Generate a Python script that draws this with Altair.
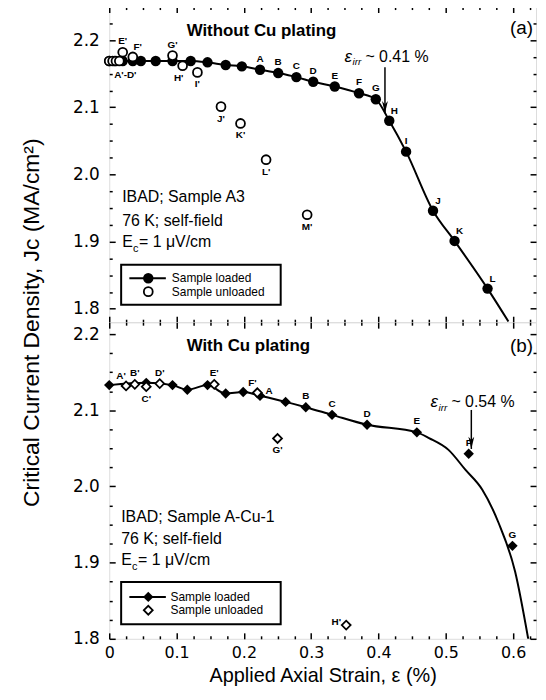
import altair as alt
import pandas as pd

FONT = "Liberation Sans"
TICK_FONT = "DejaVu Sans"

# ---------------- Panel (a): without Cu plating ----------------
a_loaded_strain = [0.0, 0.008, 0.020, 0.035, 0.047, 0.069, 0.094, 0.121, 0.146, 0.173, 0.197,
                   0.224, 0.251, 0.278, 0.303, 0.335, 0.371, 0.396, 0.416, 0.441, 0.481, 0.513, 0.562]
a_loaded_jc = [2.169, 2.169, 2.169, 2.169, 2.169, 2.169, 2.169, 2.169, 2.167, 2.163, 2.161,
               2.156, 2.151, 2.145, 2.138, 2.131, 2.121, 2.112, 2.080, 2.034, 1.946, 1.901, 1.830]
a_loaded_label = ["", "", "", "", "", "", "", "", "", "", "",
                  "A", "B", "C", "D", "E", "F", "G", "H", "I", "J", "K", "L"]
a_loaded_place = ["", "", "", "", "", "", "", "", "", "", "",
                  "above", "above", "above", "above", "above", "above", "above",
                  "above_right", "above", "above_right", "above_right", "above_right"]
a_tail_strain = [0.593]
a_tail_jc = [1.781]

a_unloaded_strain = [0.0, 0.005, 0.010, 0.015, 0.020, 0.035, 0.094, 0.109, 0.131, 0.166, 0.195, 0.233, 0.294]
a_unloaded_jc = [2.169, 2.169, 2.169, 2.169, 2.182, 2.175, 2.177, 2.162, 2.152, 2.101, 2.076, 2.022, 1.940]
a_unloaded_label = ["", "", "", "A'-D'", "E'", "F'", "G'", "H'", "I'", "J'", "K'", "L'", "M'"]
a_unloaded_place = ["", "", "", "below_right", "above", "above_right", "above", "below_left",
                    "below", "below", "below", "below", "below"]

# ---------------- Panel (b): with Cu plating ----------------
b_loaded_strain = [0.0, 0.055, 0.094, 0.116, 0.146, 0.173, 0.199, 0.224, 0.262, 0.292,
                   0.331, 0.383, 0.457, 0.534, 0.599]
b_loaded_jc = [2.133, 2.136, 2.133, 2.127, 2.133, 2.122, 2.124, 2.119, 2.111, 2.104,
               2.094, 2.081, 2.071, 2.043, 1.922]
b_loaded_label = ["", "", "", "", "", "", "", "A", "", "B", "C", "D", "E", "F", "G"]
b_loaded_place = ["", "", "", "", "", "", "", "right_up", "", "above", "above", "above",
                  "above", "above", "above"]
b_curve_strain = [0.475, 0.504, 0.529, 0.554, 0.578, 0.603, 0.623]
b_curve_jc = [2.0635, 2.048, 2.022, 1.996, 1.953, 1.888, 1.797]

b_unloaded_strain = [0.025, 0.038, 0.055, 0.075, 0.156, 0.220, 0.250, 0.352]
b_unloaded_jc = [2.132, 2.134, 2.131, 2.135, 2.134, 2.123, 2.063, 1.818]
b_unloaded_label = ["A'", "B'", "C'", "D'", "E'", "F'", "G'", "H'"]
b_unloaded_place = ["above_left", "above", "below", "above", "above", "above_left", "below", "left"]

# ---------------- axes ----------------
X_DOMAIN = [0, 0.634]
x_major = [0.0, 0.1, 0.2, 0.3, 0.4, 0.5, 0.6]
x_minor = [0.025, 0.05, 0.075, 0.125, 0.15, 0.175, 0.225, 0.25, 0.275, 0.325, 0.35, 0.375,
           0.425, 0.45, 0.475, 0.525, 0.55, 0.575, 0.625]
y_major = [1.8, 1.9, 2.0, 2.1, 2.2]
y_minor_a = [1.825, 1.85, 1.875, 1.925, 1.95, 1.975, 2.025, 2.05, 2.075, 2.125, 2.15, 2.175, 2.225]
y_minor_b = [1.825, 1.85, 1.875, 1.925, 1.95, 1.975, 2.025, 2.05, 2.075, 2.125, 2.15, 2.175]
A_DOMAIN = [1.78, 2.25]
B_DOMAIN = [1.80, 2.2156]

W = 430
H_A = 318
H_B = 319

Y_TITLE = "Critical Current Density, Jc (MA/cm²)"
X_TITLE = "Applied Axial Strain, ε (%)"

PLACE = {
    "above": (0, -11), "above_right": (5, -10), "above_left": (-5, -10),
    "below": (0, 12), "below_right": (6, 14), "below_left": (-4, 12),
    "left": (-10, -3), "right_up": (9, -5),
}


def tick_axis(orient, values, size, offset):
    return alt.Axis(orient=orient, values=values, labels=False, domain=False, grid=False,
                    ticks=True, tickSize=size, tickWidth=1.5, tickColor="black",
                    offset=offset, title=None)


def make_df(s, j, lab=None, place=None):
    d = {"s": s, "j": j}
    if lab is not None:
        d["lab"] = lab
        d["place"] = place
    return pd.DataFrame(d)


def panel(ydom, height, yminor, loaded, line, unloaded, shape, size_f, size_o,
          is_bottom, notes, eirr, arrow, legend, title, tag):
    xs = alt.Scale(domain=X_DOMAIN, nice=False, zero=False)
    ys = alt.Scale(domain=ydom, nice=False, zero=False)

    def xy(xa=None, ya=None, xf="s", yf="j"):
        return dict(x=alt.X(f"{xf}:Q", scale=xs, axis=xa), y=alt.Y(f"{yf}:Q", scale=ys, axis=ya))

    if is_bottom:
        x_label_axis = alt.Axis(orient="bottom", values=x_major, ticks=False, domain=False, grid=False,
                                labelFont=TICK_FONT, labelFontSize=16, labelColor="black",
                                labelPadding=6, labelFlush=False, labelOverlap=False,
                                labelExpr="datum.value == 0 ? '0' : format(datum.value, '.1f')",
                                title=X_TITLE, titleFont=FONT, titleFontSize=20,
                                titleFontWeight="normal", titleColor="black", titlePadding=5)
        y_label_axis = alt.Axis(orient="left", values=y_major, ticks=False, domain=False, grid=False,
                                labelFont=TICK_FONT, labelFontSize=17, labelColor="black",
                                labelPadding=10, labelFlush=False, labelOverlap=False,
                                format=".1f", title=None)
    else:
        x_label_axis = None
        y_label_axis = alt.Axis(orient="left", values=y_major, ticks=False, domain=False, grid=False,
                                labelFont=TICK_FONT, labelFontSize=17, labelColor="black",
                                labelPadding=10, labelFlush=False, labelOverlap=False,
                                format=".1f", title=Y_TITLE, titleFont=FONT, titleFontSize=23,
                                titleFontWeight="normal", titleColor="black",
                                titleY=H_A, titlePadding=29)

    layers = []
    layers.append(
        alt.Chart(line).mark_line(color="black", strokeWidth=2, interpolate="monotone", clip=True)
        .encode(**xy(tick_axis("bottom", x_major, 6, -6), tick_axis("left", y_major, 6, -6)), order="s:Q")
    )
    layers.append(
        alt.Chart(loaded).mark_point(shape=shape, filled=True, color="black", size=size_f, opacity=1)
        .encode(**xy(x_label_axis, y_label_axis))
    )
    layers.append(
        alt.Chart(unloaded).mark_point(shape=shape, filled=True, fill="white", stroke="black",
                                       strokeWidth=1.8, size=size_o, opacity=1)
        .encode(**xy(tick_axis("bottom", x_minor, 3, -3), tick_axis("left", yminor, 3, -3)))
    )
    layers.append(
        alt.Chart(loaded).mark_point(opacity=0)
        .encode(**xy(tick_axis("bottom", x_major, 6, -height), tick_axis("left", y_major, 6, -W)))
    )
    layers.append(
        alt.Chart(loaded).mark_point(opacity=0)
        .encode(**xy(tick_axis("bottom", x_minor, 3, -height), tick_axis("left", yminor, 3, -W)))
    )

    for df in (loaded, unloaded):
        lab = df[df["lab"] != ""]
        for place, (dx, dy) in PLACE.items():
            sub = lab[lab["place"] == place]
            if len(sub) == 0:
                continue
            layers.append(
                alt.Chart(sub).mark_text(font=FONT, fontSize=10, fontWeight="bold", color="black",
                                         dx=dx, dy=dy, align="center", baseline="middle")
                .encode(**xy(None, None), text="lab:N")
            )

    nt_s, nt_j, nt_txt = notes
    layers.append(
        alt.Chart(pd.DataFrame({"s": nt_s[:2], "j": nt_j[:2], "t": nt_txt[:2]}))
        .mark_text(font=FONT, fontSize=16, color="black", align="left", baseline="middle")
        .encode(**xy(None, None), text="t:N")
    )
    ec = pd.DataFrame({"s": [nt_s[2]], "j": [nt_j[2]]})
    layers.append(alt.Chart(ec).mark_text(font=FONT, fontSize=16, color="black", align="left",
                                          baseline="middle", text="E").encode(**xy(None, None)))
    layers.append(alt.Chart(ec).mark_text(font=FONT, fontSize=11, color="black", align="left",
                                          baseline="middle", dx=11, dy=7, text="c").encode(**xy(None, None)))
    layers.append(alt.Chart(ec).mark_text(font=FONT, fontSize=16, color="black", align="left",
                                          baseline="middle", dx=17, text=nt_txt[2]).encode(**xy(None, None)))

    es, ej, etxt = eirr
    edf = pd.DataFrame({"s": [es], "j": [ej]})
    layers.append(alt.Chart(edf).mark_text(font=FONT, fontSize=17, fontStyle="italic", color="black",
                                           align="left", baseline="middle", text="ε").encode(**xy(None, None)))
    layers.append(alt.Chart(edf).mark_text(font=FONT, fontSize=10, fontStyle="italic", color="black",
                                           align="left", baseline="middle", dx=8, dy=6, text="irr").encode(**xy(None, None)))
    layers.append(alt.Chart(edf).mark_text(font=FONT, fontSize=16, color="black", align="left",
                                           baseline="middle", dx=21, text=etxt).encode(**xy(None, None)))

    ax_s, ax_j0, ax_j1 = arrow
    adf = pd.DataFrame({"s": [ax_s], "j": [ax_j0], "j2": [ax_j1]})
    layers.append(alt.Chart(adf).mark_rule(color="black", strokeWidth=1.5)
                  .encode(**xy(None, None), y2="j2:Q"))
    layers.append(alt.Chart(adf).mark_point(shape="M0,0 L-0.38,-1.6 L0,-1.15 L0.38,-1.6 Z", filled=True,
                                            color="black", size=240, opacity=1)
                  .encode(x=alt.X("s:Q", scale=xs, axis=None), y=alt.Y("j2:Q", scale=ys, axis=None)))

    lx0, lx1, ly0, ly1, lline_x0, lline_x1, lmark_x, ltext_x, ly_load, ly_unl = legend
    box = pd.DataFrame({"s": [lx0], "s2": [lx1], "j": [ly0], "j2": [ly1]})
    layers.append(alt.Chart(box).mark_rect(fill="white", stroke="black", strokeWidth=2)
                  .encode(**xy(None, None), x2="s2:Q", y2="j2:Q"))
    seg = pd.DataFrame({"s": [lline_x0], "s2": [lline_x1], "j": [ly_load]})
    layers.append(alt.Chart(seg).mark_rule(color="black", strokeWidth=2)
                  .encode(**xy(None, None), x2="s2:Q"))
    layers.append(alt.Chart(pd.DataFrame({"s": [lmark_x], "j": [ly_load]}))
                  .mark_point(shape=shape, filled=True, color="black", size=size_f, opacity=1)
                  .encode(**xy(None, None)))
    layers.append(alt.Chart(pd.DataFrame({"s": [lmark_x], "j": [ly_unl]}))
                  .mark_point(shape=shape, filled=True, fill="white", stroke="black", strokeWidth=1.8,
                              size=size_o, opacity=1)
                  .encode(**xy(None, None)))
    layers.append(alt.Chart(pd.DataFrame({"s": [ltext_x, ltext_x], "j": [ly_load, ly_unl],
                                          "t": ["Sample loaded", "Sample unloaded"]}))
                  .mark_text(font=FONT, fontSize=12, color="black", align="left", baseline="middle")
                  .encode(**xy(None, None), text="t:N"))

    ts, tj, ttxt = title
    layers.append(alt.Chart(pd.DataFrame({"s": [ts], "j": [tj]}))
                  .mark_text(font=FONT, fontSize=17, fontWeight="bold", color="black", align="left",
                             baseline="middle", text=ttxt).encode(**xy(None, None)))
    gs, gj, gtxt = tag
    layers.append(alt.Chart(pd.DataFrame({"s": [gs], "j": [gj]}))
                  .mark_text(font=FONT, fontSize=19, color="black", align="left",
                             baseline="middle", text=gtxt).encode(**xy(None, None)))

    return (alt.layer(*layers)
            .resolve_axis(x="independent", y="independent")
            .properties(width=W, height=height))


a_loaded = make_df(a_loaded_strain, a_loaded_jc, a_loaded_label, a_loaded_place)
a_line = make_df(a_loaded_strain + a_tail_strain, a_loaded_jc + a_tail_jc)
a_unloaded = make_df(a_unloaded_strain, a_unloaded_jc, a_unloaded_label, a_unloaded_place)

b_loaded = make_df(b_loaded_strain, b_loaded_jc, b_loaded_label, b_loaded_place)
b_line = make_df(b_loaded_strain[:13] + b_curve_strain, b_loaded_jc[:13] + b_curve_jc)
b_unloaded = make_df(b_unloaded_strain, b_unloaded_jc, b_unloaded_label, b_unloaded_place)

top = panel(
    A_DOMAIN, H_A, y_minor_a, a_loaded, a_line, a_unloaded, "circle", 110, 80, False,
    ([0.0192, 0.0192, 0.0192], [1.966, 1.930, 1.8996],
     ["IBAD; Sample A3", "76 K; self-field", "= 1 μV/cm"]),
    (0.3496, 2.1756, "~ 0.41 %"),
    (0.4096, 2.1598, 2.091),
    (0.0177, 0.2547, 1.8655, 1.8060, 0.0299, 0.0841, 0.058, 0.093, 1.8455, 1.8255),
    (0.115, 2.2138, "Without Cu plating"),
    (0.5954, 2.2187, "(a)"),
)

bottom = panel(
    B_DOMAIN, H_B, y_minor_b, b_loaded, b_line, b_unloaded, "diamond", 110, 80, True,
    ([0.0177, 0.0177, 0.0177], [1.9593, 1.931, 1.9037],
     ["IBAD; Sample A-Cu-1", "76 K; self-field", "= 1 μV/cm"]),
    (0.4774, 2.1113, "~ 0.54 %"),
    (0.5379, 2.1004, 2.0492),
    (0.0177, 0.2547, 1.8745, 1.8190, 0.0299, 0.0841, 0.058, 0.091, 1.8550, 1.8375),
    (0.115, 2.1847, "With Cu plating"),
    (0.5954, 2.1847, "(b)"),
)

chart = (alt.vconcat(top, bottom, spacing=0, bounds="flush")
         .properties(padding={"left": 12, "top": -6, "right": 0, "bottom": -1})
         .configure_view(stroke="black", strokeWidth=2)
         .configure(background="white"))

chart.save("out.html", embed_options={"renderer": "svg", "actions": False})
